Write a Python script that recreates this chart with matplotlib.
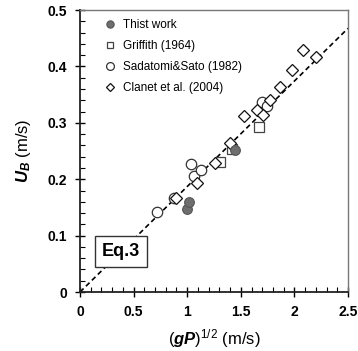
import matplotlib
matplotlib.use("Agg")
import matplotlib.pyplot as plt
import numpy as np
from matplotlib.ticker import MultipleLocator

plt.rcParams['font.family'] = ['Liberation Sans', 'DejaVu Sans']
plt.rcParams['mathtext.fontset'] = 'custom'
plt.rcParams['mathtext.rm'] = 'Liberation Sans'
plt.rcParams['mathtext.it'] = 'Liberation Sans:italic'
plt.rcParams['mathtext.bf'] = 'Liberation Sans:bold'
plt.rcParams['mathtext.bfit'] = 'Liberation Sans:bold:italic'

# Data
this_x = [1.00, 1.02, 1.45]
this_y = [0.148, 0.160, 0.252]
grif_x = [1.31, 1.42, 1.67]
grif_y = [0.230, 0.254, 0.293]
sada_x = [0.72, 0.88, 1.04, 1.06, 1.13, 1.70, 1.74]
sada_y = [0.142, 0.167, 0.227, 0.206, 0.216, 0.337, 0.329]
clan_x = [0.90, 1.09, 1.26, 1.40, 1.53, 1.65, 1.71, 1.77, 1.87, 1.98, 2.08, 2.20]
clan_y = [0.166, 0.193, 0.229, 0.264, 0.312, 0.323, 0.314, 0.340, 0.363, 0.394, 0.429, 0.417]
line_x = [0.0, 2.5]
line_slope = 0.187

fig = plt.figure(figsize=(3.58, 3.51), dpi=100)
ax = fig.add_axes([0.2235, 0.168, 0.7485, 0.8035])

ax.plot(line_x, [line_slope * v for v in line_x], ls=(0, (3, 2)), color='black', lw=1.2, zorder=1)

ax.plot(this_x, this_y, 'o', ms=7, mfc='#6e6e6e', mec='#555555', mew=0.8, label='Thist work', zorder=3)
ax.plot(grif_x, grif_y, 's', ms=6.5, mfc='white', mec='#444444', mew=0.9, label='Griffith (1964)', zorder=2)
ax.plot(sada_x, sada_y, 'o', ms=7.5, mfc='white', mec='#333333', mew=0.9, label='Sadatomi&Sato (1982)', zorder=2)
ax.plot(clan_x, clan_y, 'D', ms=6, mfc='white', mec='#111111', mew=0.9, label='Clanet et al. (2004)', zorder=2)

ax.set_xlim(0, 2.5)
ax.set_ylim(0, 0.5)
ax.xaxis.set_minor_locator(MultipleLocator(0.1))
ax.yaxis.set_minor_locator(MultipleLocator(0.02))
ax.set_xticks([0, 0.5, 1, 1.5, 2, 2.5])
ax.set_xticklabels(['0', '0.5', '1', '1.5', '2', '2.5'])
ax.set_yticks([0, 0.1, 0.2, 0.3, 0.4, 0.5])
ax.set_yticklabels(['0', '0.1', '0.2', '0.3', '0.4', '0.5'])
ax.tick_params(which='major', direction='inout', length=7, width=1, labelsize=10, pad=6)
ax.tick_params(which='minor', direction='in', length=3.5, width=0.8)
for lab in ax.get_xticklabels() + ax.get_yticklabels():
    lab.set_fontweight('bold')

for s in ['left', 'bottom']:
    ax.spines[s].set_linewidth(1.3)
    ax.spines[s].set_color('#222222')
for s in ['top', 'right']:
    ax.spines[s].set_linewidth(1.0)
    ax.spines[s].set_color('#777777')

ax.set_xlabel(r'($\mathbfit{gP}$)$^{1/2}$ (m/s)', fontsize=12, labelpad=6)
ax.set_ylabel(r'$\mathbfit{U}_{\mathbfit{B}}$ (m/s)', fontsize=12, labelpad=10)

leg = ax.legend(loc='upper left', bbox_to_anchor=(0.04, 1.005), frameon=False, fontsize=8.5,
                handletextpad=0.3, labelspacing=0.75, handlelength=1.5, markerscale=0.75)

ax.text(0.383, 0.072, 'Eq.3', fontsize=13, fontweight='bold', ha='center', va='center',
        bbox=dict(boxstyle='square,pad=0.4', fc='white', ec='#333333', lw=1.0), zorder=5)

fig.savefig('out.png', dpi=100)
